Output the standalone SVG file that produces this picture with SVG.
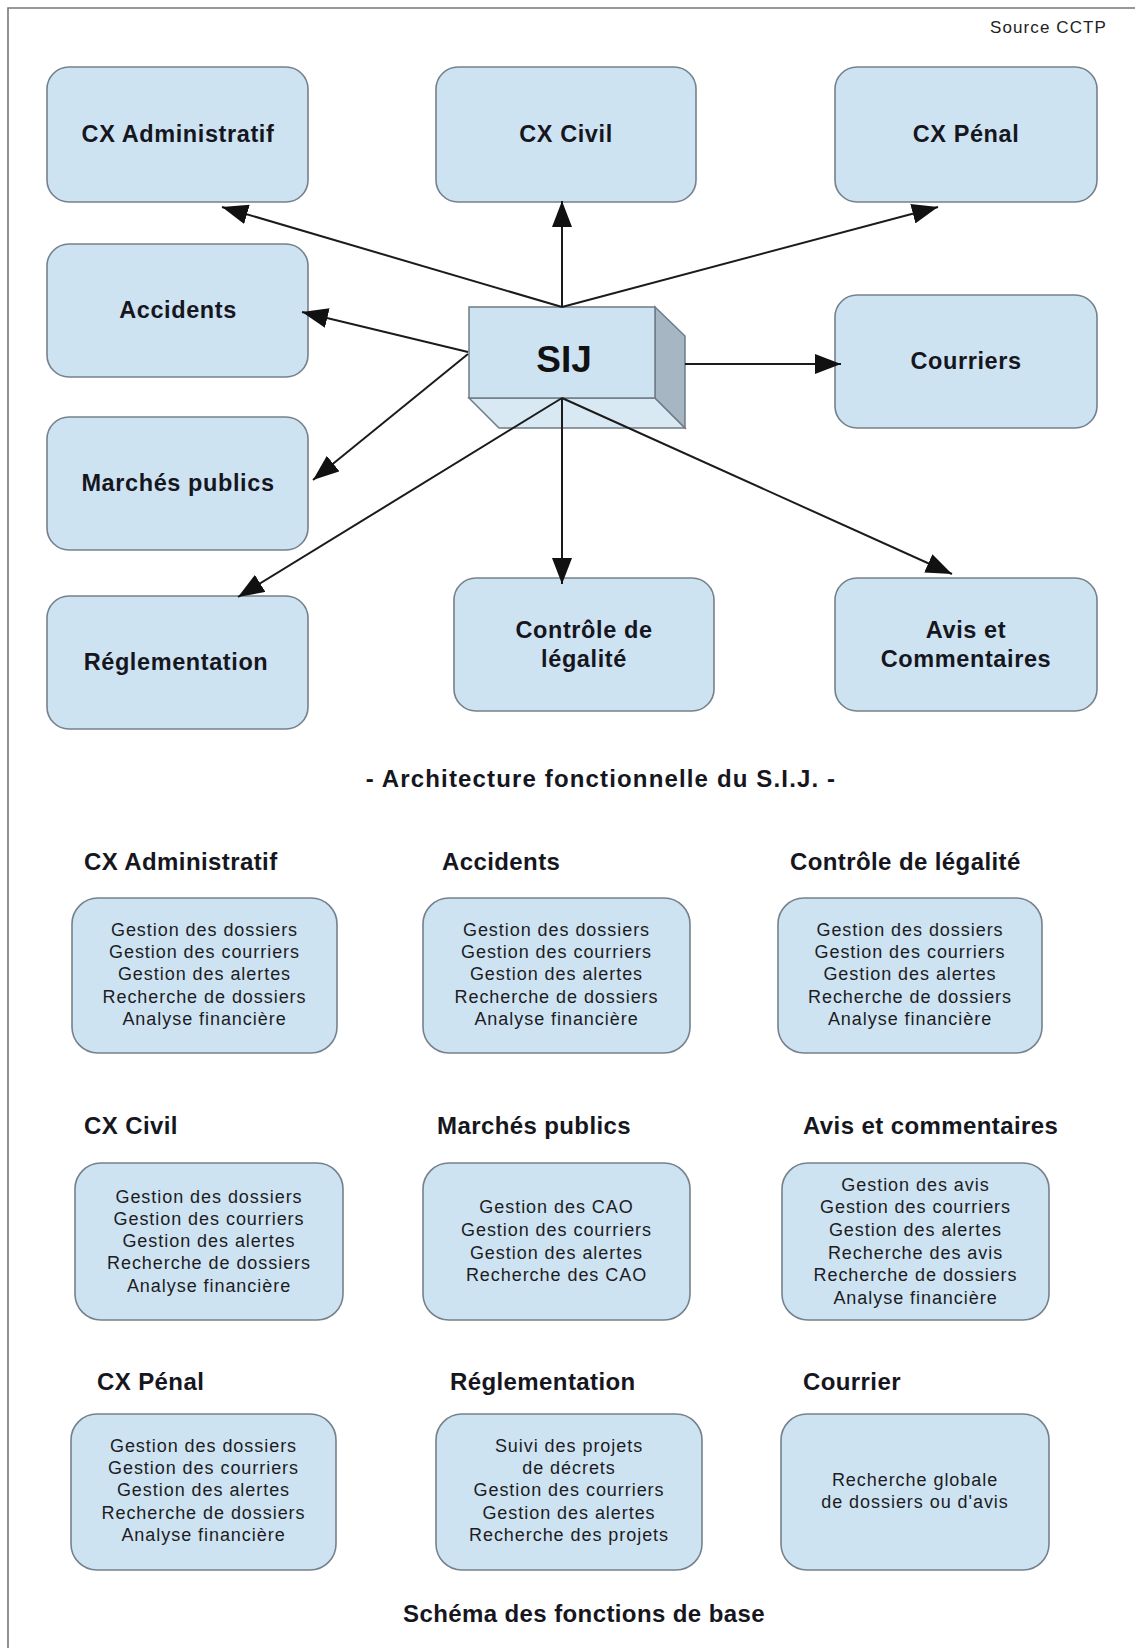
<svg xmlns="http://www.w3.org/2000/svg" width="1135" height="1648" viewBox="0 0 1135 1648">
<defs>
<style>
.box{fill:#cee3f2;stroke:#75818b;stroke-width:1.6}
.h{font-family:"Liberation Sans",Arial,sans-serif;font-weight:bold;font-size:23.5px;letter-spacing:0.6px;fill:#16161e;text-anchor:middle}
.t{font-family:"Liberation Sans",Arial,sans-serif;font-weight:bold;font-size:24px;letter-spacing:0.4px;fill:#16161e}
.b{font-family:"Liberation Sans",Arial,sans-serif;font-size:18px;letter-spacing:0.95px;fill:#1c1c22;text-anchor:middle}
.ln{stroke:#1b1b1b;stroke-width:2;fill:none;marker-end:url(#ah)}
</style>
<marker id="ah" viewBox="0 0 26 20" refX="26" refY="10" markerWidth="26" markerHeight="20" orient="auto" markerUnits="userSpaceOnUse">
<path d="M0,0 L26,10 L0,20 z" fill="#111"/>
</marker>
</defs>
<rect width="1135" height="1648" fill="#ffffff"/>
<path d="M8,1648 V8 H1135" fill="none" stroke="#777" stroke-width="1.6"/>
<text x="1107" y="33" font-family="Liberation Sans,Arial,sans-serif" font-size="17" letter-spacing="1.1" fill="#222" text-anchor="end">Source CCTP</text>

<g id="sij">
<path d="M469,398 L499,428 L685,428 L655,398 z" fill="#d9e9f4" stroke="#6f7b85" stroke-width="1.5"/>
<path d="M655,307 L685,336 L685,428 L655,398 z" fill="#a6b6c3" stroke="#6f7b85" stroke-width="1.5"/>
<rect x="469" y="307" width="186" height="91" fill="#cee3f2" stroke="#6f7b85" stroke-width="1.5"/>
<text x="564" y="372" font-family="Liberation Sans,Arial,sans-serif" font-weight="bold" font-size="37" fill="#111" text-anchor="middle">SIJ</text>
</g>

<g id="n-cx-admin"><rect class="box" x="47" y="67" width="261" height="135" rx="22"/><text class="h" x="178" y="142">CX Administratif</text></g>
<g id="n-cx-civil"><rect class="box" x="436" y="67" width="260" height="135" rx="22"/><text class="h" x="566" y="142">CX Civil</text></g>
<g id="n-cx-penal"><rect class="box" x="835" y="67" width="262" height="135" rx="22"/><text class="h" x="966" y="142">CX Pénal</text></g>
<g id="n-accidents"><rect class="box" x="47" y="244" width="261" height="133" rx="22"/><text class="h" x="178" y="318">Accidents</text></g>
<g id="n-marches"><rect class="box" x="47" y="417" width="261" height="133" rx="22"/><text class="h" x="178" y="491">Marchés publics</text></g>
<g id="n-reglementation"><rect class="box" x="47" y="596" width="261" height="133" rx="22"/><text class="h" x="176" y="670">Réglementation</text></g>
<g id="n-courriers"><rect class="box" x="835" y="295" width="262" height="133" rx="22"/><text class="h" x="966" y="369">Courriers</text></g>
<g id="n-controle"><rect class="box" x="454" y="578" width="260" height="133" rx="22"/><text class="h" x="584" y="638">Contrôle de</text><text class="h" x="584" y="667">légalité</text></g>
<g id="n-avis"><rect class="box" x="835" y="578" width="262" height="133" rx="22"/><text class="h" x="966" y="638">Avis et</text><text class="h" x="966" y="667">Commentaires</text></g>

<g id="connectors">
<line class="ln" x1="562" y1="307" x2="222" y2="207"/>
<line class="ln" x1="562" y1="307" x2="562" y2="201"/>
<line class="ln" x1="562" y1="307" x2="938" y2="207"/>
<line class="ln" x1="468" y1="352" x2="302" y2="312"/>
<line class="ln" x1="468" y1="354" x2="313" y2="480"/>
<line class="ln" x1="685" y1="364" x2="841" y2="364"/>
<line class="ln" x1="562" y1="398" x2="238" y2="597"/>
<line class="ln" x1="562" y1="398" x2="562" y2="584"/>
<line class="ln" x1="562" y1="398" x2="952" y2="574"/>
</g>

<text class="t" x="601" y="787" style="text-anchor:middle;letter-spacing:1.15px">- Architecture fonctionnelle du S.I.J. -</text>

<g id="f-cx-admin"><text class="t" x="84" y="870">CX Administratif</text><rect class="box" x="72" y="898" width="265" height="155" rx="26"/>
<text class="b" x="204.5" y="936">Gestion des dossiers</text><text class="b" x="204.5" y="958">Gestion des courriers</text><text class="b" x="204.5" y="980">Gestion des alertes</text><text class="b" x="204.5" y="1003">Recherche de dossiers</text><text class="b" x="204.5" y="1025">Analyse financière</text></g>
<g id="f-accidents"><text class="t" x="442" y="870">Accidents</text><rect class="box" x="423" y="898" width="267" height="155" rx="26"/>
<text class="b" x="556.5" y="936">Gestion des dossiers</text><text class="b" x="556.5" y="958">Gestion des courriers</text><text class="b" x="556.5" y="980">Gestion des alertes</text><text class="b" x="556.5" y="1003">Recherche de dossiers</text><text class="b" x="556.5" y="1025">Analyse financière</text></g>
<g id="f-controle"><text class="t" x="790" y="870">Contrôle de légalité</text><rect class="box" x="778" y="898" width="264" height="155" rx="26"/>
<text class="b" x="910" y="936">Gestion des dossiers</text><text class="b" x="910" y="958">Gestion des courriers</text><text class="b" x="910" y="980">Gestion des alertes</text><text class="b" x="910" y="1003">Recherche de dossiers</text><text class="b" x="910" y="1025">Analyse financière</text></g>

<g id="f-cx-civil"><text class="t" x="84" y="1134">CX Civil</text><rect class="box" x="75" y="1163" width="268" height="157" rx="26"/>
<text class="b" x="209" y="1203">Gestion des dossiers</text><text class="b" x="209" y="1225">Gestion des courriers</text><text class="b" x="209" y="1247">Gestion des alertes</text><text class="b" x="209" y="1269">Recherche de dossiers</text><text class="b" x="209" y="1292">Analyse financière</text></g>
<g id="f-marches"><text class="t" x="437" y="1134">Marchés publics</text><rect class="box" x="423" y="1163" width="267" height="157" rx="26"/>
<text class="b" x="556.5" y="1213">Gestion des CAO</text><text class="b" x="556.5" y="1236">Gestion des courriers</text><text class="b" x="556.5" y="1259">Gestion des alertes</text><text class="b" x="556.5" y="1281">Recherche des CAO</text></g>
<g id="f-avis"><text class="t" x="803" y="1134">Avis et commentaires</text><rect class="box" x="782" y="1163" width="267" height="157" rx="26"/>
<text class="b" x="915.5" y="1191">Gestion des avis</text><text class="b" x="915.5" y="1213">Gestion des courriers</text><text class="b" x="915.5" y="1236">Gestion des alertes</text><text class="b" x="915.5" y="1259">Recherche des avis</text><text class="b" x="915.5" y="1281">Recherche de dossiers</text><text class="b" x="915.5" y="1304">Analyse financière</text></g>

<g id="f-cx-penal"><text class="t" x="97" y="1390">CX Pénal</text><rect class="box" x="71" y="1414" width="265" height="156" rx="26"/>
<text class="b" x="203.5" y="1452">Gestion des dossiers</text><text class="b" x="203.5" y="1474">Gestion des courriers</text><text class="b" x="203.5" y="1496">Gestion des alertes</text><text class="b" x="203.5" y="1519">Recherche de dossiers</text><text class="b" x="203.5" y="1541">Analyse financière</text></g>
<g id="f-reglementation"><text class="t" x="450" y="1390">Réglementation</text><rect class="box" x="436" y="1414" width="266" height="156" rx="26"/>
<text class="b" x="569" y="1452">Suivi des projets</text><text class="b" x="569" y="1474">de décrets</text><text class="b" x="569" y="1496">Gestion des courriers</text><text class="b" x="569" y="1519">Gestion des alertes</text><text class="b" x="569" y="1541">Recherche des projets</text></g>
<g id="f-courrier"><text class="t" x="803" y="1390">Courrier</text><rect class="box" x="781" y="1414" width="268" height="156" rx="26"/>
<text class="b" x="915" y="1486">Recherche globale</text><text class="b" x="915" y="1508">de dossiers ou d'avis</text></g>

<text class="t" x="584" y="1622" style="text-anchor:middle">Schéma des fonctions de base</text>
</svg>
